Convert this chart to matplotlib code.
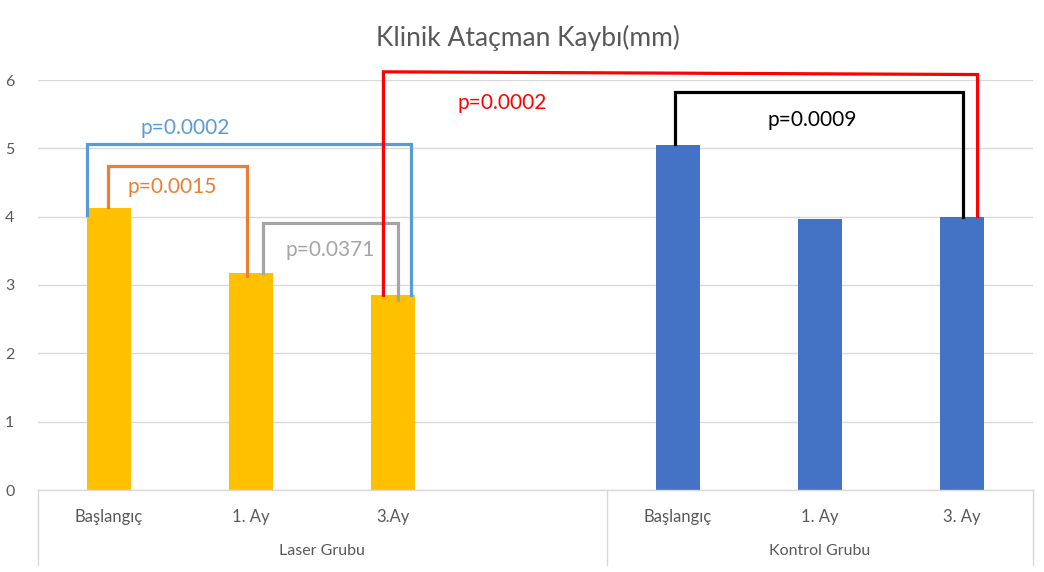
import matplotlib
matplotlib.use("Agg")
import matplotlib.pyplot as plt
from matplotlib.transforms import blended_transform_factory

# ---- data ----
groups = ["Laser Grubu", "Kontrol Grubu"]
laser_labels = ["Başlangıç", "1. Ay", "3.Ay"]
kontrol_labels = ["Başlangıç", "1. Ay", "3. Ay"]
laser_values = [4.12, 3.17, 2.85]
kontrol_values = [5.05, 3.97, 4.00]
yticks = [0, 1, 2, 3, 4, 5, 6]
title = "Klinik Ataçman Kaybı(mm)"

# bracket annotations: (x_left, x_right, y_top_left, y_top_right, y_bot_left, y_bot_right, label, color, label_x, label_y)
brackets = [
    (-0.155, 2.125, 5.06, 5.06, 4.03, 2.85, "p=0.0002", "#5B9BD5", 0.535, 5.30),
    (-0.005, 0.97, 4.74, 4.74, 4.14, 3.13, "p=0.0015", "#ED7D31", 0.443, 4.44),
    (1.08, 2.03, 3.91, 3.91, 3.18, 2.78, "p=0.0371", "#A5A5A5", 1.555, 3.51),
    (1.93, 6.11, 6.12, 6.08, 2.85, 4.00, "p=0.0002", "#FF0000", 2.765, 5.67),
    (3.98, 6.01, 5.82, 5.82, 5.06, 4.00, "p=0.0009", "#000000", 4.947, 5.42),
]

plt.rcParams['font.family'] = ['Lato', 'DejaVu Sans']

W, H = 1044, 572
fig = plt.figure(figsize=(W / 100, H / 100), dpi=100)
ax = fig.add_axes([38 / W, 1 - 490 / H, 995 / W, 410 / H])

laser_x = [0, 1, 2]
kontrol_x = [4, 5, 6]
bw = 0.31
ax.bar(laser_x, laser_values, width=bw, color="#FFC000", zorder=2)
ax.bar(kontrol_x, kontrol_values, width=bw, color="#4472C4", zorder=2)

ax.set_xlim(-0.5, 6.5)
ax.set_ylim(0, 6)
ax.set_yticks(yticks)
ax.set_yticklabels([str(t) for t in yticks], fontsize=11.5, color="#595959")
ax.yaxis.grid(True, color="#D9D9D9", linewidth=1.0, zorder=0)
ax.set_axisbelow(True)
ax.tick_params(axis="y", length=0, pad=17)
for s in ["left", "right", "top"]:
    ax.spines[s].set_visible(False)
ax.spines["bottom"].set_color("#D9D9D9")
ax.spines["bottom"].set_linewidth(1.0)

ax.set_xticks(laser_x + kontrol_x)
ax.set_xticklabels(laser_labels + kontrol_labels, fontsize=12, color="#595959")
ax.tick_params(axis="x", length=0, pad=14)

trans = blended_transform_factory(ax.transData, ax.transAxes)
bottom_frac = -(565 - 490) / 410
for xs in [-0.5, 3.5, 6.5]:
    ax.plot([xs, xs], [0, bottom_frac], transform=trans, color="#D9D9D9",
            linewidth=1.0, clip_on=False)
group_centers = [1.5, 5.0]
for g, gx in zip(groups, group_centers):
    ax.text(gx, -(551 - 490) / 410, g, transform=trans, ha="center", va="center",
            fontsize=11.5, color="#595959")

for (xl, xr, ytl, ytr, ybl, ybr, lab, col, lx, ly) in brackets:
    ax.plot([xl, xl, xr, xr], [ybl, ytl, ytr, ybr], color=col, linewidth=2.3,
            clip_on=False, zorder=3, solid_joinstyle="miter")
    ax.text(lx, ly, lab, color=col, fontsize=15, ha="center", va="center", zorder=4)

fig.text(528 / W, 1 - 38 / H, title, ha="center", va="center", fontsize=19,
         color="#595959")

fig.savefig("out.png", dpi=100)
